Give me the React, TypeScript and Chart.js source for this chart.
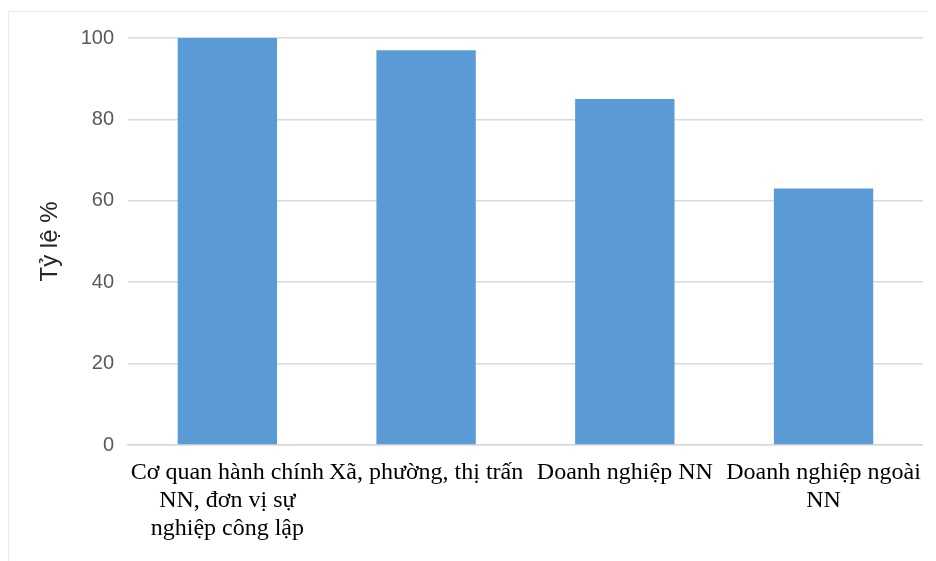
import React, { useEffect, useRef } from "react";
import { Chart, registerables } from "chart.js";

Chart.register(...registerables);

const categories: string[][] = [
  ["Cơ quan hành chính", "NN, đơn vị sự", "nghiệp công lập"],
  ["Xã, phường, thị trấn"],
  ["Doanh nghiệp NN"],
  ["Doanh nghiệp ngoài", "NN"],
];
const values: number[] = [100, 97, 85, 63];
const yTicks: number[] = [0, 20, 40, 60, 80, 100];
const yTitle = "Tỷ lệ %";

export default function App() {
  const ref = useRef<HTMLCanvasElement | null>(null);
  useEffect(() => {
    if (!ref.current) return;
    const chart = new Chart(ref.current, {
      type: "bar",
      data: {
        labels: categories,
        datasets: [
          {
            data: values,
            backgroundColor: "#5B9BD5",
            borderWidth: 0,
            categoryPercentage: 1,
            barPercentage: 0.5,
          },
        ],
      },
      options: {
        animation: false,
        responsive: false,
        maintainAspectRatio: false,
        layout: { padding: { left: 0, right: 9, top: 25, bottom: 0 } },
        plugins: { legend: { display: false }, tooltip: { enabled: false } },
        scales: {
          x: {
            grid: { display: false, drawTicks: false },
            border: { display: true, color: "#d9d9d9", width: 1.5 },
            ticks: {
              autoSkip: false,
              maxRotation: 0,
              minRotation: 0,
              padding: 14,
              color: "#000000",
              font: { family: "'Liberation Serif', 'Times New Roman', serif", size: 24, lineHeight: 1.17 },
            },
            afterFit: (s: any) => {
              s.height = 116;
            },
          },
          y: {
            min: 0,
            max: 100,
            afterBuildTicks: (s: any) => {
              s.ticks = yTicks.map((v) => ({ value: v }));
            },
            grid: { color: "#d9d9d9", lineWidth: 1.5, drawTicks: false },
            border: { display: false },
            ticks: {
              padding: 14,
              color: "#595959",
              font: { family: "'Liberation Sans', Arial, sans-serif", size: 20 },
            },
            title: {
              display: true,
              text: yTitle,
              color: "#262626",
              padding: { top: 27, bottom: 0 },
              font: { family: "'Liberation Sans', Arial, sans-serif", size: 24 },
            },
            afterFit: (s: any) => {
              s.width = 119;
            },
          },
        },
      },
    });
    return () => chart.destroy();
  }, []);
  return (
    <div style={{ paddingTop: 3 }}>
      <div
        style={{
          borderTop: "1px solid #ebebeb",
          borderLeft: "1px solid #ebebeb",
          width: 927,
          height: 549,
          position: "relative",
        }}
      >
        <canvas ref={ref} width={927} height={549} style={{ display: "block" }} />
      </div>
    </div>
  );
}
